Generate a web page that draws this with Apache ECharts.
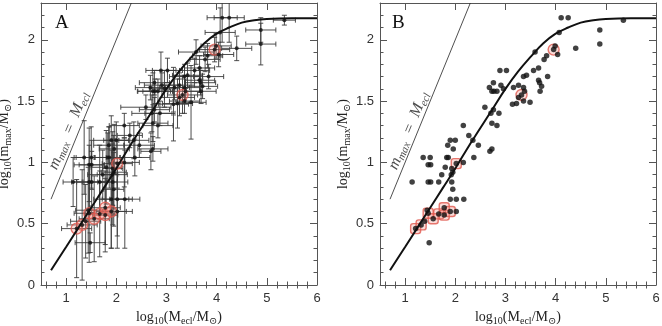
<!DOCTYPE html>
<html>
<head>
<meta charset="utf-8">
<script src="https://cdn.jsdelivr.net/npm/echarts@6/dist/echarts.min.js"></script>
<style>
  html, body { margin: 0; padding: 0; background: #fff; }
  #chart { width: 662px; height: 326px; }
</style>
</head>
<body>
<div id="chart"></div>
<script>
// clusters: log10(Mecl), log10(mmax) and their errors (panel A bars)
var logMecl = [1.14, 1.36, 1.50, 1.46, 1.51, 1.46, 1.51, 1.39, 1.44, 1.48, 1.67, 1.73, 1.80, 1.83, 1.86, 1.85, 1.90, 2.00, 1.96, 1.93,
  1.92, 1.95, 1.93, 1.95, 1.90, 2.02, 2.17, 2.02, 2.16, 2.16, 2.27, 2.35, 2.37, 2.46, 2.69, 2.73, 2.59, 2.71, 2.76, 2.87,
  2.73, 2.83, 2.68, 2.73, 2.77, 2.83, 2.96, 2.76, 2.91, 2.89, 3.02, 3.14, 3.22, 3.16, 3.26, 3.36, 3.38, 3.36, 3.26, 3.49,
  3.36, 3.42, 3.56, 3.66, 3.66, 3.68, 3.72, 3.69, 3.84, 3.59, 3.77, 3.82, 3.99, 4.04, 4.07, 4.11, 4.25, 4.40, 4.88, 4.88,
  5.35, 1.21, 1.32, 1.46, 1.56, 1.67, 1.78, 1.78, 1.90, 2.02, 3.32, 3.96]
var logMmax = [0.84, 1.04, 1.04, 0.98, 0.98, 0.84, 0.84, 0.52, 0.61, 0.345, 0.84, 0.90, 0.96, 1.04, 1.04, 1.14, 1.18, 1.18, 1.11, 0.95,
  0.90, 0.92, 0.84, 0.78, 0.70, 0.70, 0.70, 0.60, 1.00, 1.30, 1.22, 1.18, 1.04, 1.14, 1.09, 1.11, 1.45, 1.40, 1.43, 1.40,
  1.32, 1.30, 1.61, 1.58, 1.58, 1.58, 1.60, 1.65, 1.63, 1.75, 1.75, 1.475, 1.48, 1.61, 1.63, 1.61, 1.58, 1.50, 1.53, 1.49,
  1.70, 1.71, 1.75, 1.77, 1.67, 1.65, 1.62, 1.58, 1.70, 1.90, 1.84, 1.87, 1.95, 1.88, 2.06, 2.18, 2.18, 1.93, 2.08, 1.965,
  2.16, 0.46, 0.49, 0.585, 0.54, 0.58, 0.63, 0.57, 0.60, 0.99, 1.55, 1.92]
var errMecl = [0.2, 0.2, 0.3, 0.3, 0.25, 0.35, 0.3, 0.3, 0.25, 0.3, 0.35, 0.3, 0.3, 0.25, 0.3, 0.3, 0.35, 0.25, 0.3, 0.2,
  0.3, 0.25, 0.3, 0.2, 0.35, 0.3, 0.3, 0.3, 0.3, 0.3, 0.25, 0.3, 0.3, 0.3, 0.2, 0.3, 0.5, 0.4, 0.3, 0.3,
  0.3, 0.3, 0.3, 0.3, 0.35, 0.3, 0.3, 0.3, 0.35, 0.3, 0.3, 0.3, 0.3, 0.3, 0.3, 0.3, 0.3, 0.3, 0.3, 0.3,
  0.3, 0.3, 0.3, 0.3, 0.3, 0.3, 0.3, 0.3, 0.3, 0.35, 0.3, 0.3, 0.3, 0.3, 0.3, 0.3, 0.3, 0.3, 0.3, 0.3,
  0.22, 0.3, 0.3, 0.3, 0.3, 0.3, 0.3, 0.25, 0.3, 0.3, 0.3, 0.3]
var errMmax = [0.2, 0.3, 0.25, 0.3, 0.2, 0.3, 0.25, 0.3, 0.35, 0.08, 0.3, 0.2, 0.3, 0.2, 0.25, 0.15, 0.2, 0.15, 0.2, 0.3,
  0.25, 0.3, 0.35, 0.3, 0.4, 0.3, 0.4, 0.3, 0.2, 0.1, 0.1, 0.15, 0.15, 0.1, 0.15, 0.1, 0.1, 0.15, 0.1, 0.1,
  0.15, 0.1, 0.1, 0.15, 0.1, 0.1, 0.15, 0.1, 0.1, 0.15, 0.1, 0.3, 0.2, 0.1, 0.1, 0.1, 0.1, 0.1, 0.15, 0.3,
  0.1, 0.1, 0.1, 0.1, 0.1, 0.1, 0.1, 0.1, 0.1, 0.1, 0.1, 0.1, 0.1, 0.1, 0.2, 0.2, 0.2, 0.1, 0.1, 0.17,
  0.04, 0.4, 0.45, 0.4, 0.35, 0.35, 0.3, 0.3, 0.3, 0.2, 0.15, 0.1]

// highlighted clusters (red)
var markX = [1.21, 1.32, 1.46, 1.56, 1.67, 1.78, 1.78, 1.90, 2.02, 3.32, 3.96]
var markY = [0.46, 0.49, 0.585, 0.54, 0.58, 0.63, 0.57, 0.60, 0.99, 1.55, 1.92]
var markShapeB = ['roundRect', 'roundRect', 'roundRect', 'roundRect', 'roundRect', 'roundRect', 'roundRect', 'roundRect', 'roundRect', 'circle', 'circle']

// mmax - Mecl relation
var curveX = [0.7, 1.0, 1.25, 1.5, 1.75, 2.0, 2.25, 2.5, 2.75, 3.0, 3.25, 3.5, 3.75, 4.0, 4.25, 4.5, 4.75, 5.0, 5.5, 6.0]
var curveY = [0.12, 0.31, 0.47, 0.63, 0.79, 0.95, 1.12, 1.28, 1.44, 1.60, 1.74, 1.86, 1.97, 2.05, 2.10, 2.14, 2.16, 2.17, 2.175, 2.175]

// mmax = Mecl line and its label position
var diagX = [0.7, 2.3]
var diagY = [0.7, 2.3]
var noteX = [1.05, 1.07]
var noteY = [1.26, 1.26]

var xTicks = [1, 2, 3, 4, 5, 6]
var yTicks = [0, 0.5, 1, 1.5, 2]
var panelNames = ['A', 'B']

var xMinor = []
for (var i = 3; i <= 30; i++) {
  var v = Math.round(i * 2) / 10
  if (v % 1 !== 0) xMinor.push(v)
}
var yMinor = []
for (var j = 1; j <= 23; j++) {
  if (j % 5 !== 0) yMinor.push(j / 10)
}

var serif = '"Liberation Serif", "DejaVu Serif", serif'
var sans = '"Liberation Sans", Arial, sans-serif'
var frame = '#555'

var nameRich = {
  n: { fontFamily: serif, fontSize: 14, lineHeight: 18, color: '#222', verticalAlign: 'middle' },
  s: { fontFamily: serif, fontSize: 10, lineHeight: 10, color: '#222', verticalAlign: 'bottom' }
}
var xName = '{n|log}{s|10}{n|(M}{s|ecl}{n|/M}{s|⊙}{n|)}'
var yName = '{n|log}{s|10}{n|(m}{s|max}{n|/M}{s|⊙}{n|)}'

var grids = [
  { left: 41, top: 3, width: 276, height: 282, outerBoundsMode: 'none' },
  { left: 380, top: 3, width: 276, height: 282, outerBoundsMode: 'none' }
]
var yNameGap = [21, 28]

var xAxes = []
var yAxes = []
grids.forEach(function (gr, g) {
  ['bottom', 'top'].forEach(function (pos) {
    xAxes.push({
      gridIndex: g, type: 'value', min: 0.5, max: 6, position: pos,
      axisLine: { show: true, onZero: false, lineStyle: { color: frame, width: 1 } },
      axisTick: { show: true, inside: true, length: 7, customValues: xTicks, lineStyle: { color: frame, width: 1 } },
      axisLabel: { show: pos === 'bottom', customValues: xTicks, margin: 7, fontSize: 13, color: '#333', fontFamily: sans },
      splitLine: { show: false },
      name: pos === 'bottom' ? xName : '', nameLocation: 'middle', nameGap: 22,
      nameTextStyle: { rich: nameRich }
    })
    xAxes.push({
      gridIndex: g, type: 'value', min: 0.5, max: 6, position: pos,
      axisLine: { show: false },
      axisTick: { show: true, inside: true, length: 3.5, customValues: xMinor, lineStyle: { color: frame, width: 1 } },
      axisLabel: { show: false },
      splitLine: { show: false }
    })
  });
  ['left', 'right'].forEach(function (pos) {
    yAxes.push({
      gridIndex: g, type: 'value', min: 0, max: 2.3, position: pos,
      axisLine: { show: true, onZero: false, lineStyle: { color: frame, width: 1 } },
      axisTick: { show: true, inside: true, length: 7, customValues: yTicks, lineStyle: { color: frame, width: 1 } },
      axisLabel: { show: pos === 'left', customValues: yTicks, margin: 6, fontSize: 13, color: '#333', fontFamily: sans },
      splitLine: { show: false },
      name: pos === 'left' ? yName : '', nameLocation: 'middle', nameGap: yNameGap[g],
      nameTextStyle: { rich: nameRich }
    })
    yAxes.push({
      gridIndex: g, type: 'value', min: 0, max: 2.3, position: pos,
      axisLine: { show: false },
      axisTick: { show: true, inside: true, length: 3.5, customValues: yMinor, lineStyle: { color: frame, width: 1 } },
      axisLabel: { show: false },
      splitLine: { show: false }
    })
  })
})

function pairs (xs, ys) {
  return xs.map(function (x, k) { return [x, ys[k]] })
}

var errData = logMecl.map(function (x, k) { return [x, logMmax[k], errMecl[k], errMmax[k]] })

function renderErr (params, api) {
  var x = api.value(0), y = api.value(1), ex = api.value(2), ey = api.value(3)
  var l = api.coord([x - ex, y]), r = api.coord([x + ex, y])
  var b = api.coord([x, Math.max(0, y - ey)]), t = api.coord([x, y + ey])
  var c = 2.5
  var st = { stroke: '#3a3a3a', lineWidth: 0.9 }
  return {
    type: 'group',
    children: [
      { type: 'line', shape: { x1: l[0], y1: l[1], x2: r[0], y2: r[1] }, style: st },
      { type: 'line', shape: { x1: l[0], y1: l[1] - c, x2: l[0], y2: l[1] + c }, style: st },
      { type: 'line', shape: { x1: r[0], y1: r[1] - c, x2: r[0], y2: r[1] + c }, style: st },
      { type: 'line', shape: { x1: b[0], y1: b[1], x2: t[0], y2: t[1] }, style: st },
      { type: 'line', shape: { x1: b[0] - c, y1: b[1], x2: b[0] + c, y2: b[1] }, style: st },
      { type: 'line', shape: { x1: t[0] - c, y1: t[1], x2: t[0] + c, y2: t[1] }, style: st }
    ]
  }
}

var series = []
grids.forEach(function (gr, g) {
  var ax = { xAxisIndex: 4 * g, yAxisIndex: 4 * g }
  series.push(Object.assign({
    type: 'line', data: pairs(diagX, diagY), symbol: 'none', silent: true,
    lineStyle: { color: '#222', width: 0.8 }
  }, ax))
  series.push(Object.assign({
    type: 'scatter', data: [[noteX[g], noteY[g]]], symbolSize: 1, silent: true,
    itemStyle: { color: 'rgba(0,0,0,0)' },
    label: {
      show: true, position: 'inside', rotate: 67.5, align: 'center', verticalAlign: 'middle',
      formatter: '{i|m}{s|max}{i|  =  M}{s|ecl}',
      rich: {
        i: { fontFamily: serif, fontStyle: 'italic', fontSize: 16, lineHeight: 19, color: '#222', verticalAlign: 'middle' },
        s: { fontFamily: serif, fontStyle: 'italic', fontSize: 11, lineHeight: 11, color: '#222', verticalAlign: 'bottom' }
      }
    }
  }, ax))
  if (g === 0) {
    series.push(Object.assign({
      type: 'custom', data: errData, renderItem: renderErr, clip: true, silent: true,
      encode: { x: 0, y: 1 }
    }, ax))
  }
  series.push(Object.assign({
    type: 'line', data: pairs(curveX, curveY), symbol: 'none', smooth: 0.4, silent: true,
    lineStyle: { color: '#111', width: 2 }
  }, ax))
  series.push(Object.assign({
    type: 'scatter', silent: true,
    data: markX.map(function (x, k) {
      return {
        value: [x, markY[k]],
        symbol: g === 0 ? 'circle' : markShapeB[k],
        symbolSize: g === 0 ? 11 : (markShapeB[k] === 'roundRect' ? 10 : 11)
      }
    }),
    itemStyle: { color: 'rgba(240,130,120,0.35)', borderColor: '#e0584e', borderWidth: 1.4 }
  }, ax))
  series.push(Object.assign({
    type: 'scatter', data: pairs(logMecl, logMmax), symbol: 'circle', symbolSize: g === 0 ? 4 : 5.5,
    silent: true, itemStyle: { color: '#111' }
  }, ax))
})

var chart = echarts.init(document.getElementById('chart'))
chart.setOption({
  animation: false,
  backgroundColor: '#fff',
  title: panelNames.map(function (t, g) {
    return {
      text: t, left: g === 0 ? 55 : 392, top: 14, padding: 0,
      textStyle: { fontFamily: serif, fontSize: 19, fontWeight: 'normal', color: '#111' }
    }
  }),
  grid: grids,
  xAxis: xAxes,
  yAxis: yAxes,
  series: series
})
window.addEventListener('resize', () => chart.resize())
</script>
</body>
</html>
